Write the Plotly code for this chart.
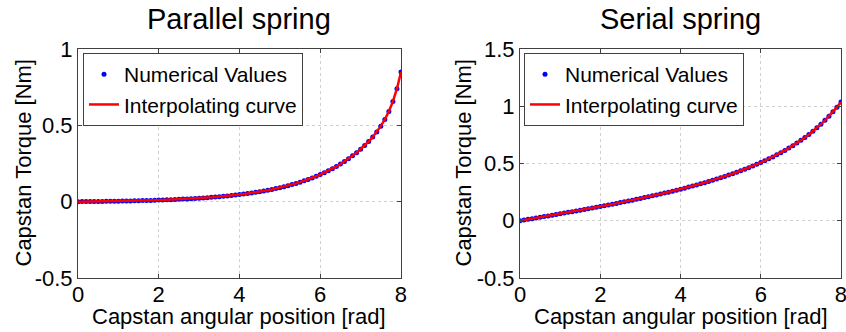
import plotly.graph_objects as go
from plotly.subplots import make_subplots

# angular position samples [rad]
angle = [0.0, 0.1, 0.2, 0.3, 0.4, 0.5, 0.6, 0.7, 0.8, 0.9,
         1.0, 1.1, 1.2, 1.3, 1.4, 1.5, 1.6, 1.7, 1.8, 1.9,
         2.0, 2.1, 2.2, 2.3, 2.4, 2.5, 2.6, 2.7, 2.8, 2.9,
         3.0, 3.1, 3.2, 3.3, 3.4, 3.5, 3.6, 3.7, 3.8, 3.9,
         4.0, 4.1, 4.2, 4.3, 4.4, 4.5, 4.6, 4.7, 4.8, 4.9,
         5.0, 5.1, 5.2, 5.3, 5.4, 5.5, 5.6, 5.7, 5.8, 5.9,
         6.0, 6.1, 6.2, 6.3, 6.4, 6.5, 6.6, 6.7, 6.8, 6.9,
         7.0, 7.1, 7.2, 7.3, 7.4, 7.5, 7.6, 7.7, 7.8, 7.9,
         8.0]

# Parallel spring torque [Nm]
parallel_torque = [0.0000, 0.0003, 0.0005, 0.0008, 0.0011, 0.0015, 0.0018, 0.0022, 0.0026, 0.0030,
                   0.0035, 0.0040, 0.0045, 0.0051, 0.0057, 0.0063, 0.0070, 0.0077, 0.0084, 0.0093,
                   0.0101, 0.0111, 0.0120, 0.0131, 0.0142, 0.0154, 0.0167, 0.0181, 0.0195, 0.0211,
                   0.0227, 0.0245, 0.0263, 0.0283, 0.0305, 0.0327, 0.0352, 0.0377, 0.0405, 0.0434,
                   0.0466, 0.0499, 0.0534, 0.0572, 0.0613, 0.0656, 0.0702, 0.0751, 0.0803, 0.0858,
                   0.0918, 0.0981, 0.1048, 0.1120, 0.1197, 0.1279, 0.1366, 0.1459, 0.1558, 0.1663,
                   0.1776, 0.1896, 0.2024, 0.2161, 0.2307, 0.2464, 0.2631, 0.2810, 0.3002, 0.3209,
                   0.3432, 0.3676, 0.3941, 0.4237, 0.4567, 0.4945, 0.5386, 0.5914, 0.6566, 0.7396,
                   0.8487]

# Serial spring torque [Nm]
serial_torque = [0.0000, 0.0060, 0.0121, 0.0181, 0.0242, 0.0303, 0.0364, 0.0425, 0.0486, 0.0547,
                 0.0609, 0.0671, 0.0733, 0.0796, 0.0859, 0.0922, 0.0986, 0.1051, 0.1115, 0.1181,
                 0.1247, 0.1313, 0.1380, 0.1448, 0.1517, 0.1586, 0.1657, 0.1728, 0.1800, 0.1873,
                 0.1947, 0.2022, 0.2098, 0.2176, 0.2254, 0.2334, 0.2416, 0.2499, 0.2583, 0.2669,
                 0.2757, 0.2847, 0.2938, 0.3032, 0.3128, 0.3226, 0.3326, 0.3429, 0.3535, 0.3643,
                 0.3754, 0.3869, 0.3987, 0.4108, 0.4233, 0.4363, 0.4496, 0.4634, 0.4777, 0.4925,
                 0.5078, 0.5238, 0.5404, 0.5576, 0.5756, 0.5944, 0.6140, 0.6346, 0.6561, 0.6788,
                 0.7026, 0.7276, 0.7541, 0.7821, 0.8118, 0.8433, 0.8769, 0.9127, 0.9511, 0.9922,
                 1.0366]

titles = ["Parallel spring", "Serial spring"]
x_ticks = [0, 2, 4, 6, 8]
y_ticks_left = [-0.5, 0, 0.5, 1]
y_ticks_right = [-0.5, 0, 0.5, 1, 1.5]
x_label = "Capstan angular position [rad]"
y_label = "Capstan Torque [Nm]"

FONT = "Liberation Sans, Arial, sans-serif"

fig = make_subplots(rows=1, cols=2, horizontal_spacing=0.1)

for col, (vals, leg) in enumerate([(parallel_torque, "legend"), (serial_torque, "legend2")], start=1):
    fig.add_trace(go.Scatter(x=angle, y=vals, mode="markers", name="Numerical Values",
                             marker=dict(color="#0000ff", size=5), legend=leg),
                  row=1, col=col)
    fig.add_trace(go.Scatter(x=angle, y=vals, mode="lines", name="Interpolating curve",
                             line=dict(color="#ff0000", width=2.5), legend=leg),
                  row=1, col=col)

axis_common = dict(showline=True, linecolor="#404040", linewidth=1, mirror="ticks",
                   ticks="inside", ticklen=4, tickcolor="#404040", automargin=False,
                   ticklabeloverflow="allow",
                   showgrid=True, gridcolor="#d0d0d0", griddash="dot", gridwidth=1,
                   zeroline=False, tickfont=dict(size=22, color="black", family=FONT))

# full-window figure (page body margin removed below)
W, H = 846, 332
ML, MR, MT, MB = 78, 5, 49, 54
PW = W - ML - MR
PH = H - MT - MB

L, R = 0.0, 0.4233
R2L = 0.5793
fig.update_xaxes(**axis_common, range=[0, 8], tickvals=x_ticks,
                 ticktext=[str(t) for t in x_ticks], ticklabelstandoff=-3)
fig.update_xaxes(domain=[L, R], row=1, col=1)
fig.update_xaxes(domain=[R2L, 1.0], row=1, col=2)
fig.update_yaxes(**axis_common)
fig.update_yaxes(range=[-0.5, 1], tickvals=y_ticks_left,
                 ticktext=[("%g" % t) for t in y_ticks_left], row=1, col=1)
fig.update_yaxes(range=[-0.5, 1.5], tickvals=y_ticks_right,
                 ticktext=[("%g" % t) for t in y_ticks_right], row=1, col=2)

legend_common = dict(bgcolor="white", bordercolor="#404040", borderwidth=1,
                     font=dict(size=21, color="black", family=FONT),
                     xanchor="left", yanchor="top", tracegroupgap=0, itemwidth=30)
fig.update_layout(
    width=W, height=H,
    margin=dict(l=ML, r=MR, t=MT, b=MB, autoexpand=False),
    paper_bgcolor="white", plot_bgcolor="white",
    showlegend=True,
    legend=dict(**legend_common, x=(83 - ML) / PW, y=(H - MB - 53) / PH),
    legend2=dict(**legend_common, x=(524 - ML) / PW, y=(H - MB - 53) / PH),
    font=dict(family=FONT, color="black"),
)

ann_font = dict(size=22, color="black", family=FONT)
for i, t in enumerate(titles):
    d0, d1 = (L, R) if i == 0 else (R2L, 1.0)
    cx = (d0 + d1) / 2
    # subplot title
    fig.add_annotation(text=t, x=cx, y=(H - MB - 19) / PH, xref="paper", yref="paper",
                       xanchor="center", yanchor="middle", showarrow=False,
                       font=dict(size=29, color="black", family=FONT))
    # x-axis title
    fig.add_annotation(text=x_label, x=cx, y=-(316 - (H - MB)) / PH, xref="paper", yref="paper",
                       xanchor="center", yanchor="middle", showarrow=False, font=ann_font,
                       borderpad=0)
    # y-axis title
    yx = (23 - ML) / PW if i == 0 else (463 - ML) / PW
    fig.add_annotation(text=y_label, x=yx, y=0.5, xref="paper", yref="paper",
                       xanchor="center", yanchor="middle", textangle=-90,
                       showarrow=False, font=ann_font)

fig.write_html("out.html",
               config={"displayModeBar": False},
               post_script="document.body.style.margin='0';document.body.style.overflow='hidden';")
